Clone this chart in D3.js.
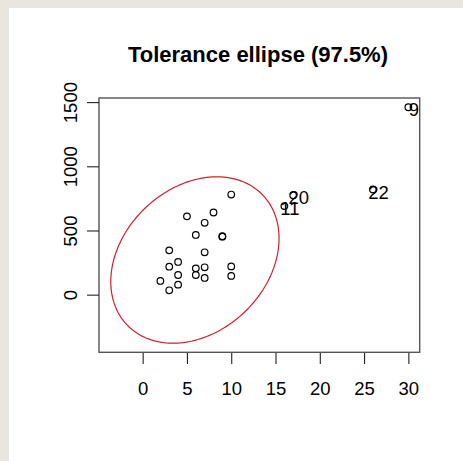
<!DOCTYPE html>
<html>
<head>
<meta charset="utf-8">
<script src="https://cdn.jsdelivr.net/npm/d3@7"></script>
<style>
  html, body { margin: 0; padding: 0; background: #e8e6df; }
  svg { display: block; }
</style>
</head>
<body>
<svg id="chart" width="463" height="461"></svg>
<script>
// ---- data ----
const title = "Tolerance ellipse (97.5%)";
const pointX = [10, 5, 8, 7, 6, 9, 9, 3, 7, 4, 3, 6, 7, 10, 4, 6, 7, 10, 2, 4, 3, 30, 26, 17, 16];
const pointY = [780, 610, 640, 560, 465, 455, 452, 345, 330, 255, 218, 205, 213, 220, 153, 153, 130, 146, 107, 78, 34, 1460, 820, 775, 690];
const pointLabel = ["", "", "", "", "", "", "", "", "", "", "", "", "", "", "", "", "", "", "", "", "", "9", "22", "20", "11"];
const xTicks = [0, 5, 10, 15, 20, 25, 30];
const yTicks = [0, 500, 1000, 1500];
const ellipseCenter = [5.9, 270];
const ellipseHalfWidths = [9.5, 648];
const ellipseCorr = 0.26;

// ---- chart ----
const svg = d3.select("#chart");
svg.append("rect").attr("x", 9).attr("y", 8).attr("width", 463 - 9).attr("height", 461 - 8).attr("fill", "#ffffff");

const pL = 99, pR = 419.7, pT = 98, pB = 352.3;
const x = d3.scaleLinear().domain([-4.93, 31.28]).range([pL, pR]);
const y = d3.scaleLinear().domain([-449, 1532]).range([pB, pT]);

const font = "'Liberation Sans', Arial, sans-serif";
const fs = 18.5;

svg.append("text")
  .attr("x", 258).attr("y", 62)
  .attr("text-anchor", "middle")
  .attr("font-family", font).attr("font-weight", "bold").attr("font-size", 22)
  .attr("fill", "#000")
  .text(title);

// clip for ellipse
svg.append("clipPath").attr("id", "plotclip")
  .append("rect").attr("x", pL).attr("y", pT).attr("width", pR - pL).attr("height", pB - pT);

// ellipse
const ts = d3.range(0, 361, 2).map(d => d * Math.PI / 180);
const ell = ts.map(t => [
  ellipseCenter[0] + ellipseHalfWidths[0] * Math.cos(t),
  ellipseCenter[1] + ellipseHalfWidths[1] * (ellipseCorr * Math.cos(t) + Math.sqrt(1 - ellipseCorr * ellipseCorr) * Math.sin(t))
]);
svg.append("path")
  .attr("clip-path", "url(#plotclip)")
  .attr("d", d3.line().x(d => x(d[0])).y(d => y(d[1]))(ell) + "Z")
  .attr("fill", "none").attr("stroke", "#cc2030").attr("stroke-width", 1.2);

// points
const pts = pointX.map((v, i) => ({ x: v, y: pointY[i], label: pointLabel[i] }));
svg.append("g").selectAll("circle").data(pts).join("circle")
  .attr("cx", d => x(d.x)).attr("cy", d => y(d.y)).attr("r", 3.3)
  .attr("fill", "none").attr("stroke", "#000").attr("stroke-width", 1.2);

svg.append("g").selectAll("text").data(pts.filter(d => d.label)).join("text")
  .attr("x", d => x(d.x) + 5.5).attr("y", d => y(d.y) + 2.5)
  .attr("dy", "0.36em")
  .attr("text-anchor", "middle")
  .attr("font-family", font).attr("font-size", fs)
  .attr("fill", "#000")
  .text(d => d.label);

// box
svg.append("rect")
  .attr("x", pL).attr("y", pT).attr("width", pR - pL).attr("height", pB - pT)
  .attr("fill", "none").attr("stroke", "#555").attr("stroke-width", 1.4);

// x axis
const gx = svg.append("g").attr("transform", `translate(0,${pB + 0.7})`)
  .call(d3.axisBottom(x).tickValues(xTicks).tickSize(11).tickPadding(17.5).tickFormat(d3.format("d")));
gx.select(".domain").remove();
gx.selectAll("line").attr("stroke", "#222").attr("stroke-width", 1.1);
gx.selectAll("text").attr("font-family", font).attr("font-size", fs).attr("fill", "#000");

// y axis
const gy = svg.append("g").attr("transform", `translate(${pL},0)`)
  .call(d3.axisLeft(y).tickValues(yTicks).tickSize(12).tickFormat(d3.format("d")));
gy.select(".domain").remove();
gy.selectAll("line").attr("stroke", "#222").attr("stroke-width", 1.1);
gy.selectAll("text")
  .attr("x", null).attr("dy", null)
  .attr("text-anchor", "middle")
  .attr("transform", "translate(-22.5,0) rotate(-90)")
  .attr("font-family", font).attr("font-size", fs).attr("fill", "#000");
</script>
</body>
</html>
